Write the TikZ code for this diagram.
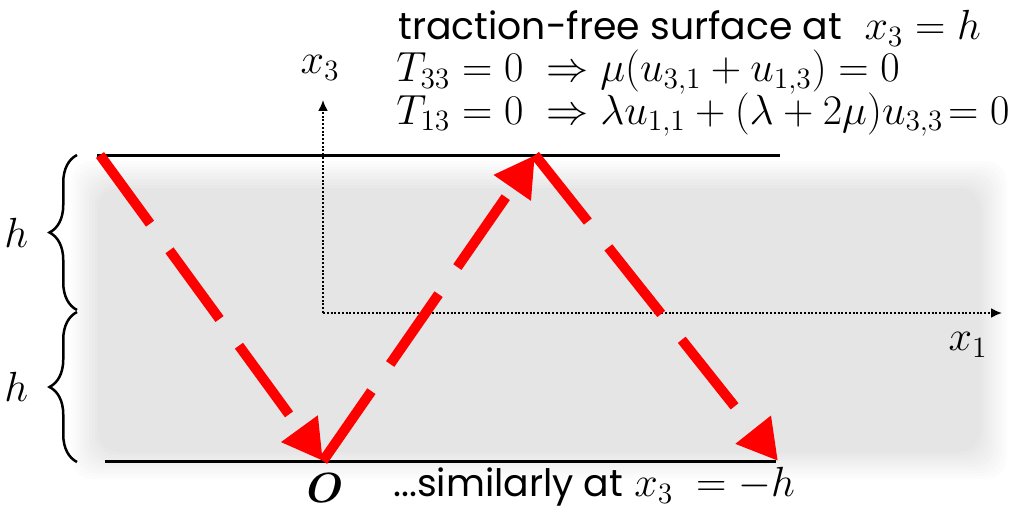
\RequirePackage{fix-cm}
\documentclass[tikz,border=0pt]{standalone}
\usepackage{amsmath}
\usepackage{amssymb}
\usepackage[no-math]{fontspec}
\setmainfont{Poppins}
\usetikzlibrary{arrows.meta,decorations.pathreplacing}

\newcommand{\plaintxt}[1]{{\fontsize{21.5}{25}\selectfont #1}}

\tikzset{
  ray/.style={red, line width=0.2cm, dash pattern=on 1.7cm off 0.66cm,
    -{Triangle[length=0.8cm,width=0.85cm]}},
  wall/.style={line width=0.06cm},
  axis/.style={densely dotted, line width=0.04cm, -{Latex[length=0.22cm,width=0.2cm]}},
  hbrace/.style={decorate, decoration={brace,amplitude=0.55cm}, line width=0.05cm},
  lbl/.style={font=\fontsize{24}{28}\selectfont, inner sep=0pt},
  eqline/.style={lbl, anchor=base west, text height=0.55cm, text depth=0.2cm},
}

\begin{document}
\begin{tikzpicture}[x=0.02cm, y=-0.02cm]
\useasboundingbox (0,0) rectangle (1013,510);
% soft grey slab
\foreach \i in {0,...,10} {
  \fill[black!\i, rounded corners=12] (68+3*\i,158+3*\i) rectangle (1010-3*\i,482-3*\i);
}
% named points
\coordinate (A) at (100,155);
\coordinate (O) at (323,461);
\coordinate (B) at (535,155);
\coordinate (C) at (778,461);
\coordinate (org) at (323,313);
\coordinate (up) at (323,100);
\coordinate (right) at (1002,313);
% surfaces
\draw [wall] (97,155) -- (780,155);
\draw [wall] (105,461) -- (776,461);
% axes
\draw [axis] (org) -- (up);
\draw [axis] (org) -- (right);
\node[lbl] (x3) at (320,68) {$x_3$};
\node[lbl] (x1) at (968,345) {$x_1$};
% braces
\draw [hbrace] (77,310) -- (77,155) node[midway, left=0.95cm, lbl] (h1) {$h$};
\draw [hbrace] (77,462) -- (77,312) node[midway, left=0.95cm, lbl] (h2) {$h$};
% reflected rays
\draw [ray] (A) -- (O);
\draw [ray] (O) -- (B);
\draw [ray] (B) -- (C);
% labels
\node[eqline] (t1) at (398,40) {\plaintxt{traction-free surface at} \ $x_3=h$};
\node[eqline] (t2) at (396,82) {$T_{33}=0\ \Rightarrow \mu(u_{3,1}+u_{1,3})=0$};
\node[eqline] (t3) at (396,124) {$T_{13}=0\ \Rightarrow \lambda u_{1,1}+(\lambda+2\mu)u_{3,3}\!=0$};
\node[lbl] (o) at (325,488) {$\boldsymbol{O}$};
\node[lbl, anchor=west] (t4) at (393,487) {\plaintxt{...similarly at} $x_3\ =-h$};
\end{tikzpicture}
\end{document}
